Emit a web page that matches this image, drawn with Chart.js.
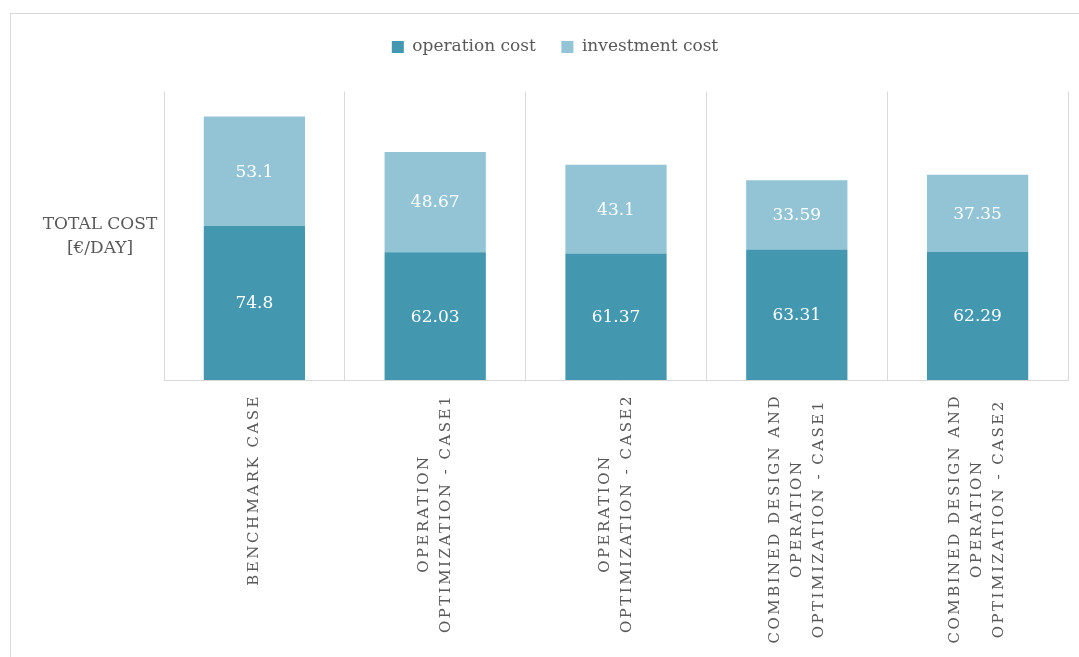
<!DOCTYPE html>
<html>
<head>
<meta charset="utf-8">
<script src="https://cdn.jsdelivr.net/npm/chart.js@4"></script>
<style>
  html, body { margin: 0; padding: 0; background: #ffffff; }
  #wrap { width: 1079px; height: 657px; }
</style>
</head>
<body>
<div id="wrap"><canvas id="grafico" width="1079" height="657"></canvas></div>
<script>
/* dados */
var categorias = [
  ["BENCHMARK CASE"],
  ["OPERATION", "OPTIMIZATION - CASE1"],
  ["OPERATION", "OPTIMIZATION - CASE2"],
  ["COMBINED DESIGN AND", "OPERATION", "OPTIMIZATION - CASE1"],
  ["COMBINED DESIGN AND", "OPERATION", "OPTIMIZATION - CASE2"]
];
var custoOperacao     = [74.8, 62.03, 61.37, 63.31, 62.29];
var custoInvestimento = [53.1, 48.67, 43.1, 33.59, 37.35];
var tituloY = ["TOTAL COST", "[€/DAY]"];

var FONTE = "'DejaVu Serif', 'Liberation Serif', serif";
var CINZA = "#595959";
var GRADE = "#d9d9d9";

/* ===== plugins ===== */
var moldura = {
  id: "moldura",
  beforeDraw: function (chart) {
    var ctx = chart.ctx;
    ctx.save();
    ctx.strokeStyle = GRADE;
    ctx.lineWidth = 1;
    ctx.strokeRect(10.5, 13.5, 1200, 800);
    ctx.restore();
  }
};

/* espaco vazio entre a legenda e a area do grafico */
var espacoLegenda = {
  id: "espacoLegenda",
  beforeInit: function (chart) {
    var caixa = {
      position: "top",
      weight: 900,
      fullSize: true,
      options: {},
      isHorizontal: function () { return true; },
      update: function (w) { this.width = w; this.height = 26; },
      draw: function () {}
    };
    Chart.layouts.addBox(chart, caixa);
  }
};

var rotulosValores = {
  id: "rotulosValores",
  afterDatasetsDraw: function (chart) {
    var ctx = chart.ctx;
    ctx.save();
    ctx.font = "17px " + FONTE;
    ctx.fillStyle = "#ffffff";
    ctx.textAlign = "center";
    ctx.textBaseline = "middle";
    chart.data.datasets.forEach(function (ds, i) {
      var meta = chart.getDatasetMeta(i);
      meta.data.forEach(function (bar, j) {
        var p = bar.getProps(["x", "y", "base"], true);
        ctx.fillText(String(ds.data[j]), p.x, (p.y + p.base) / 2 + 1);
      });
    });
    ctx.restore();
  }
};

var textosEixos = {
  id: "textosEixos",
  afterDraw: function (chart) {
    var ctx = chart.ctx;
    var x = chart.scales.x;
    /* titulo do eixo Y, horizontal */
    ctx.save();
    ctx.font = "17px " + FONTE;
    ctx.fillStyle = CINZA;
    ctx.textAlign = "center";
    ctx.textBaseline = "middle";
    ctx.fillText(tituloY[0], 100, 225);
    ctx.fillText(tituloY[1], 100, 249);
    ctx.restore();

    /* categorias rotacionadas, linhas centralizadas */
    ctx.save();
    ctx.font = "15px " + FONTE;
    ctx.fillStyle = CINZA;
    ctx.letterSpacing = "2.5px";
    ctx.textBaseline = "middle";
    ctx.textAlign = "center";
    categorias.forEach(function (linhas, i) {
      var cx = x.getPixelForTick(i);
      var maxW = 0;
      linhas.forEach(function (l) { maxW = Math.max(maxW, ctx.measureText(l).width); });
      ctx.save();
      ctx.translate(cx, chart.chartArea.bottom + 14);
      ctx.rotate(-Math.PI / 2);
      var n = linhas.length;
      linhas.forEach(function (l, j) {
        ctx.fillText(l, -maxW / 2, (j - (n - 1) / 2) * 22);
      });
      ctx.restore();
    });
    ctx.restore();
  }
};

/* ===== grafico ===== */
var grafico = new Chart(document.getElementById("grafico"), {
  type: "bar",
  data: {
    labels: categorias,
    datasets: [
      {
        label: "operation cost",
        data: custoOperacao,
        backgroundColor: "#4397af",
        barPercentage: 0.56,
        categoryPercentage: 1
      },
      {
        label: "investment cost",
        data: custoInvestimento,
        backgroundColor: "#93c4d5",
        barPercentage: 0.56,
        categoryPercentage: 1
      }
    ]
  },
  options: {
    responsive: false,
    animation: false,
    layout: { padding: { top: 13, left: 42, right: 11, bottom: 0 } },
    plugins: {
      tooltip: { enabled: false },
      legend: {
        position: "top",
        labels: {
          font: { family: FONTE, size: 17 },
          color: CINZA,
          boxWidth: 12,
          boxHeight: 12,
          padding: 25.5
        }
      }
    },
    scales: {
      x: {
        stacked: true,
        grid: { offset: true, color: GRADE, drawTicks: false },
        border: { color: GRADE },
        ticks: { display: false },
        afterFit: function (s) { s.height = 277; }
      },
      y: {
        stacked: true,
        min: 0,
        max: 140,
        grid: { display: false },
        border: { display: false },
        ticks: { display: false },
        afterFit: function (s) { s.width = 122; }
      }
    }
  },
  plugins: [moldura, espacoLegenda, rotulosValores, textosEixos]
});
</script>
</body>
</html>
